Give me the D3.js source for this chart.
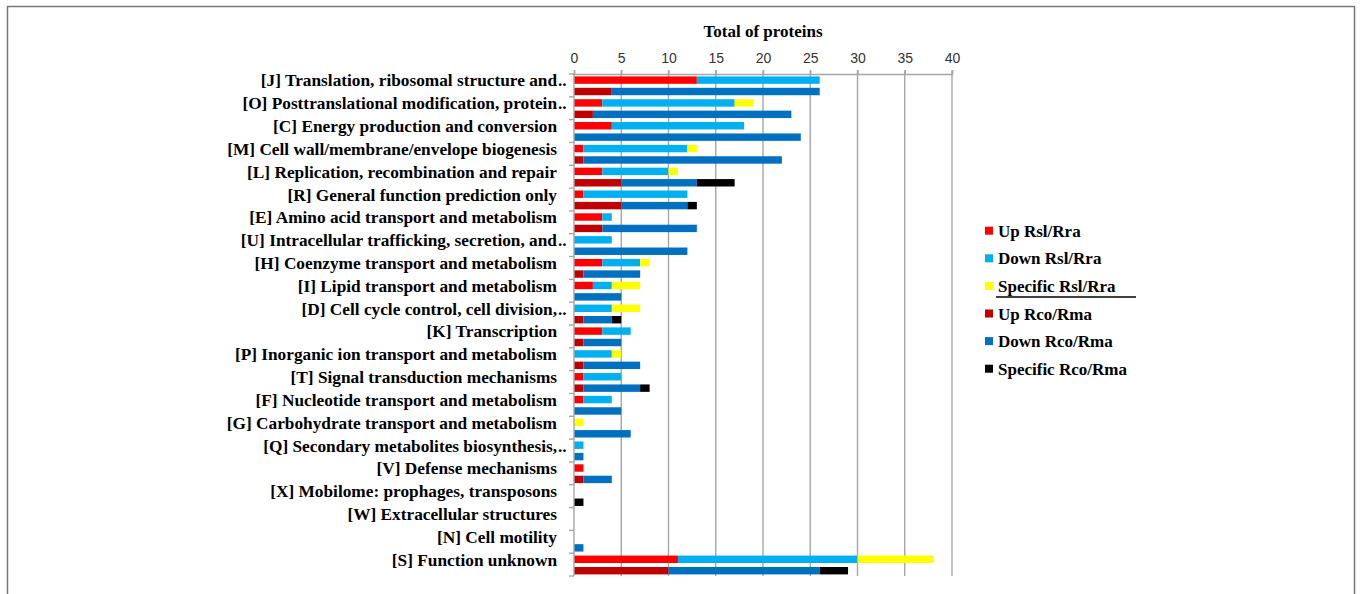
<!DOCTYPE html>
<html>
<head>
<meta charset="utf-8">
<script src="https://cdn.jsdelivr.net/npm/d3@7"></script>
<style>
  html, body { margin: 0; padding: 0; background: #fff; }
  svg { display: block; }
</style>
</head>
<body>
<svg id="chart" width="1360" height="594"></svg>
<script>
// ---- data ----
const categories = [
  "[J] Translation, ribosomal structure and..",
  "[O] Posttranslational modification, protein..",
  "[C] Energy production and conversion",
  "[M] Cell wall/membrane/envelope biogenesis",
  "[L] Replication, recombination and repair",
  "[R] General function prediction only",
  "[E] Amino acid transport and metabolism",
  "[U] Intracellular trafficking, secretion, and..",
  "[H] Coenzyme transport and metabolism",
  "[I] Lipid transport and metabolism",
  "[D] Cell cycle control, cell division,..",
  "[K] Transcription",
  "[P] Inorganic ion transport and metabolism",
  "[T] Signal transduction mechanisms",
  "[F] Nucleotide transport and metabolism",
  "[G] Carbohydrate transport and metabolism",
  "[Q] Secondary metabolites biosynthesis,..",
  "[V] Defense mechanisms",
  "[X] Mobilome: prophages, transposons",
  "[W] Extracellular structures",
  "[N] Cell motility",
  "[S] Function unknown"
];
const upRsl    = [13, 3, 4, 1, 3, 1, 3, 0, 3, 2, 0, 3, 0, 1, 1, 0, 0, 1, 0, 0, 0, 11];
const downRsl  = [13,14,14,11, 7,11, 1, 4, 4, 2, 4, 3, 4, 4, 3, 0, 1, 0, 0, 0, 0, 19];
const specRsl  = [ 0, 2, 0, 1, 1, 0, 0, 0, 1, 3, 3, 0, 1, 0, 0, 1, 0, 0, 0, 0, 0, 8];
const upRco    = [ 4, 2, 0, 1, 5, 5, 3, 0, 1, 0, 1, 1, 1, 1, 0, 0, 0, 1, 0, 0, 0, 10];
const downRco  = [22,21,24,21, 8, 7,10,12, 6, 5, 3, 4, 6, 6, 5, 6, 1, 3, 0, 0, 1, 16];
const specRco  = [ 0, 0, 0, 0, 4, 1, 0, 0, 0, 0, 1, 0, 0, 1, 0, 0, 0, 0, 1, 0, 0, 3];
const groups = ["Rsl/Rra", "Rco/Rma"];
const parts = ["up", "down", "spec"];
const xTicks = [0, 5, 10, 15, 20, 25, 30, 35, 40];
const legendLabels = ["Up Rsl/Rra", "Down Rsl/Rra", "Specific Rsl/Rra", "Up Rco/Rma", "Down Rco/Rma", "Specific Rco/Rma"];
const colors = {
  "Rsl/Rra": {up: "#FF0000", down: "#00B0F0", spec: "#FFFF00"},
  "Rco/Rma": {up: "#C00000", down: "#0070C0", spec: "#000000"}
};
const legendColors = ["#FF0000", "#00B0F0", "#FFFF00", "#C00000", "#0070C0", "#000000"];

// ---- build rows ----
const rows = [];
categories.forEach((c, i) => {
  rows.push({cat: c, group: "Rsl/Rra", up: upRsl[i], down: downRsl[i], spec: specRsl[i]});
  rows.push({cat: c, group: "Rco/Rma", up: upRco[i], down: downRco[i], spec: specRco[i]});
});
const stacked = d3.stack().keys(parts)(rows);

const svg = d3.select("#chart");
const serif = "'Liberation Serif', 'Times New Roman', serif";
const sans = "'Liberation Sans', Arial, sans-serif";

// outer frame
svg.append("path")
  .attr("d", "M7.5,600 V6.5 H1354.5 V600")
  .attr("fill", "none").attr("stroke", "#777").attr("stroke-width", 1.5);

const x = d3.scaleLinear().domain([0, 40]).range([574, 952]);
const y = d3.scaleBand().domain(categories).range([74, 576]).padding(0);
const yIn = d3.scaleBand().domain(groups).range([0, y.bandwidth()])
  .paddingInner(0.35).paddingOuter(0.175).align(0.6);

// gridlines
svg.append("g").selectAll("line").data(xTicks.filter(t => t > 0)).join("line")
  .attr("x1", d => x(d)).attr("x2", d => x(d))
  .attr("y1", 70.5).attr("y2", 576)
  .attr("stroke", "#A6A6A6").attr("stroke-width", 1.4);

// top axis
const xAxis = d3.axisTop(x).tickValues(xTicks).tickSize(4).tickPadding(7);
const gx = svg.append("g").attr("transform", "translate(0,74)").call(xAxis);
gx.select(".domain").attr("stroke", "#A6A6A6").attr("stroke-width", 1.4);
gx.selectAll(".tick line").attr("stroke", "#A6A6A6").attr("stroke-width", 1.4);
gx.selectAll(".tick text").attr("font-family", sans).attr("font-size", 14).attr("fill", "#333");

// title
svg.append("text").attr("x", 763).attr("y", 37)
  .attr("text-anchor", "middle").attr("font-family", serif)
  .attr("font-weight", "bold").attr("font-size", 17).attr("fill", "#000")
  .text("Total of proteins");

// bars
const layers = svg.append("g");
stacked.forEach(layer => {
  layers.append("g").selectAll("rect").data(layer).join("rect")
    .attr("x", d => x(d[0]))
    .attr("width", d => Math.max(0, x(d[1]) - x(d[0])))
    .attr("y", d => y(d.data.cat) + yIn(d.data.group))
    .attr("height", yIn.bandwidth())
    .attr("fill", d => colors[d.data.group][layer.key]);
});

// left axis
svg.append("line").attr("x1", 574).attr("x2", 574).attr("y1", 74).attr("y2", 576)
  .attr("stroke", "#A6A6A6").attr("stroke-width", 1.4);
const bounds = categories.map(c => y(c)).concat([y.range()[1]]);
svg.append("g").selectAll("line").data(bounds).join("line")
  .attr("x1", 569).attr("x2", 574).attr("y1", d => d).attr("y2", d => d)
  .attr("stroke", "#A6A6A6").attr("stroke-width", 1.4);

// category labels
const lab = svg.append("g").attr("font-family", serif).attr("font-weight", "bold")
  .attr("font-size", 17.3).attr("fill", "#000");
categories.forEach(c => {
  const cy = y(c) + y.bandwidth() / 2 + 1;
  const trunc = c.endsWith("..");
  const main = trunc ? c.slice(0, -2) : c;
  lab.append("text").attr("x", 557).attr("y", cy).attr("text-anchor", "end").text(main);
  if (trunc) lab.append("text").attr("x", 558).attr("y", cy).attr("text-anchor", "start").text("..");
});

// legend
const lg = svg.append("g");
legendLabels.forEach((l, i) => {
  const by = 236.7 + i * 27.6;
  lg.append("rect").attr("x", 985).attr("y", by - 10).attr("width", 8).attr("height", 8)
    .attr("fill", legendColors[i]);
  lg.append("text").attr("x", 998).attr("y", by)
    .attr("font-family", serif).attr("font-weight", "bold").attr("font-size", 17)
    .attr("fill", "#000").text(l);
});
lg.append("line").attr("x1", 996).attr("x2", 1136).attr("y1", 297).attr("y2", 297)
  .attr("stroke", "#000").attr("stroke-width", 1.6);
</script>
</body>
</html>
